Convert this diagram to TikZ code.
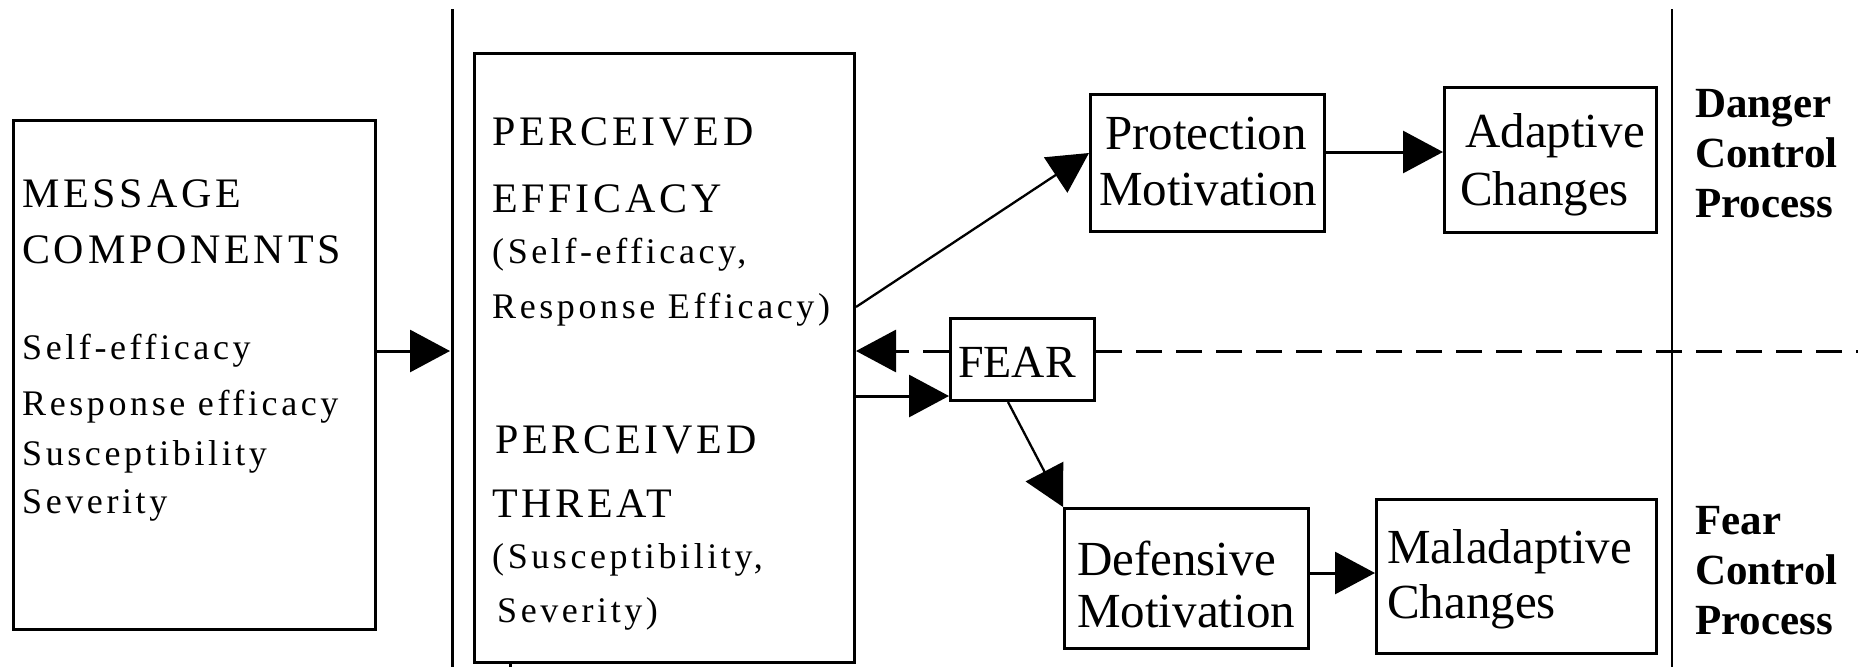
\documentclass[tikz,border=0pt]{standalone}
\usepackage{fontspec}
\setmainfont{Liberation Serif}
\newfontfamily\mycapsfam[LetterSpace=9]{Liberation Serif}
\newfontfamily\mysmallfam[LetterSpace=10]{Liberation Serif}
\usetikzlibrary{arrows.meta}
\newcommand\mycaps{\mycapsfam\fontsize{42pt}{50pt}\selectfont}
\newcommand\mysmall{\mysmallfam\fontsize{36pt}{42pt}\selectfont}
\newcommand\myboxf{\fontsize{49pt}{56pt}\selectfont}
\newcommand\myboldf{\bfseries\fontsize{43pt}{50pt}\selectfont}
\tikzset{
  box/.style={draw, line width=3pt, inner sep=0pt, anchor=north west},
  txt/.style={inner sep=0pt, anchor=base west},
  arr/.style={line width=3pt, -{Triangle[length=40pt,width=42pt]}},
  arrthin/.style={line width=2.3pt, -{Triangle[length=40pt,width=42pt]}},
  sep/.style={line width=3pt},
  dashline/.style={line width=3pt, dash pattern=on 26pt off 14pt}
}
\begin{document}
\begin{tikzpicture}[x=1pt,y=-1pt]
\useasboundingbox (0,0) rectangle (1858,667);
% boxes
\node[box, minimum width=362pt, minimum height=509pt] (msg) at (12,119) {};
\node[box, minimum width=380pt, minimum height=609pt] (perc) at (473,52) {};
\node[box, minimum width=234pt, minimum height=137pt] (prot) at (1089,93) {};
\node[box, minimum width=212pt, minimum height=145pt] (adapt) at (1443,86) {};
\node[box, minimum width=144pt, minimum height=82pt] (fear) at (949,317) {};
\node[box, minimum width=244pt, minimum height=140pt] (def) at (1063,507) {};
\node[box, minimum width=280pt, minimum height=154pt] (mal) at (1375,498) {};
% separators
\coordinate (s1t) at (452,9);
\coordinate (s1b) at (452,667);
\coordinate (s2t) at (1672,9);
\coordinate (s2b) at (1672,667);
\draw[sep] (s1t) -- (s1b);
\draw[line width=2.5pt] (s2t) -- (s2b);
\coordinate (tick) at (510,667);
\draw[sep] (perc.south west -| tick) -- (tick);
% message texts
\node[txt, font=\mycaps] (m1) at (22,207) {MESSAGE};
\node[txt, font=\mycaps] (m2) at (22,263) {COMPONENTS};
\node[txt, font=\mysmall] (m3) at (22,359) {Self-efficacy};
\node[txt, font=\mysmall] (m4) at (22,415) {Response efficacy};
\node[txt, font=\mysmall] (m5) at (22,465) {Susceptibility};
\node[txt, font=\mysmall] (m6) at (22,513) {Severity};
% perceived texts
\node[txt, font=\mycaps] (p1) at (492,145) {PERCEIVED};
\node[txt, font=\mycaps] (p2) at (492,212) {EFFICACY};
\node[txt, font=\mysmall] (p3) at (492,263) {(Self-efficacy,};
\node[txt, font=\mysmall] (p4) at (492,318) {Response Efficacy)};
\node[txt, font=\mycaps] (p5) at (495,453) {PERCEIVED};
\node[txt, font=\mycaps] (p6) at (492,517) {THREAT};
\node[txt, font=\mysmall] (p7) at (492,568) {(Susceptibility,};
\node[txt, font=\mysmall] (p8) at (497,622) {Severity)};
% right boxes texts
\node[txt, font=\myboxf] (t1) at (1105,149) {Protection};
\node[txt, font=\myboxf] (t2) at (1099,205) {Motivation};
\node[txt, font=\myboxf] (t3) at (1465,147) {Adaptive};
\node[txt, font=\myboxf] (t4) at (1460,205) {Changes};
\node[txt, font=\fontsize{46pt}{52pt}\selectfont] (t5) at (958,377) {FEAR};
\node[txt, font=\myboxf] (t6) at (1077,575) {Defensive};
\node[txt, font=\myboxf] (t7) at (1077,627) {Motivation};
\node[txt, font=\myboxf] (t8) at (1387,563) {Maladaptive};
\node[txt, font=\myboxf] (t9) at (1387,618) {Changes};
% process labels
\node[txt, font=\myboldf] (d1) at (1695,117) {Danger};
\node[txt, font=\myboldf] (d2) at (1695,167) {Control};
\node[txt, font=\myboldf] (d3) at (1695,217) {Process};
\node[txt, font=\myboldf] (f1) at (1695,534) {Fear};
\node[txt, font=\myboldf] (f2) at (1695,584) {Control};
\node[txt, font=\myboldf] (f3) at (1695,634) {Process};
% connectors
\coordinate (a1) at (450,351);
\draw[arr] (msg.east |- a1) -- (a1);
\draw[arrthin] (perc.east |- 0,307) -- (prot.west |- 0,153);
\draw[arr] (prot.east |- 0,152) -- (adapt.west |- 0,152);
\draw[arr] (perc.east |- 0,396) -- (fear.west |- 0,396);
\draw[dashline, -{Triangle[length=40pt,width=42pt]}] (fear.west |- 0,351) -- (perc.east |- 0,351);
\coordinate (dend) at (1858,351);
\draw[dashline] (fear.east |- dend) -- (dend);
\draw[arrthin] (fear.south -| 1008,0) -- (def.north west);
\draw[arr] (def.east |- 0,573) -- (mal.west |- 0,573);
\end{tikzpicture}
\end{document}
